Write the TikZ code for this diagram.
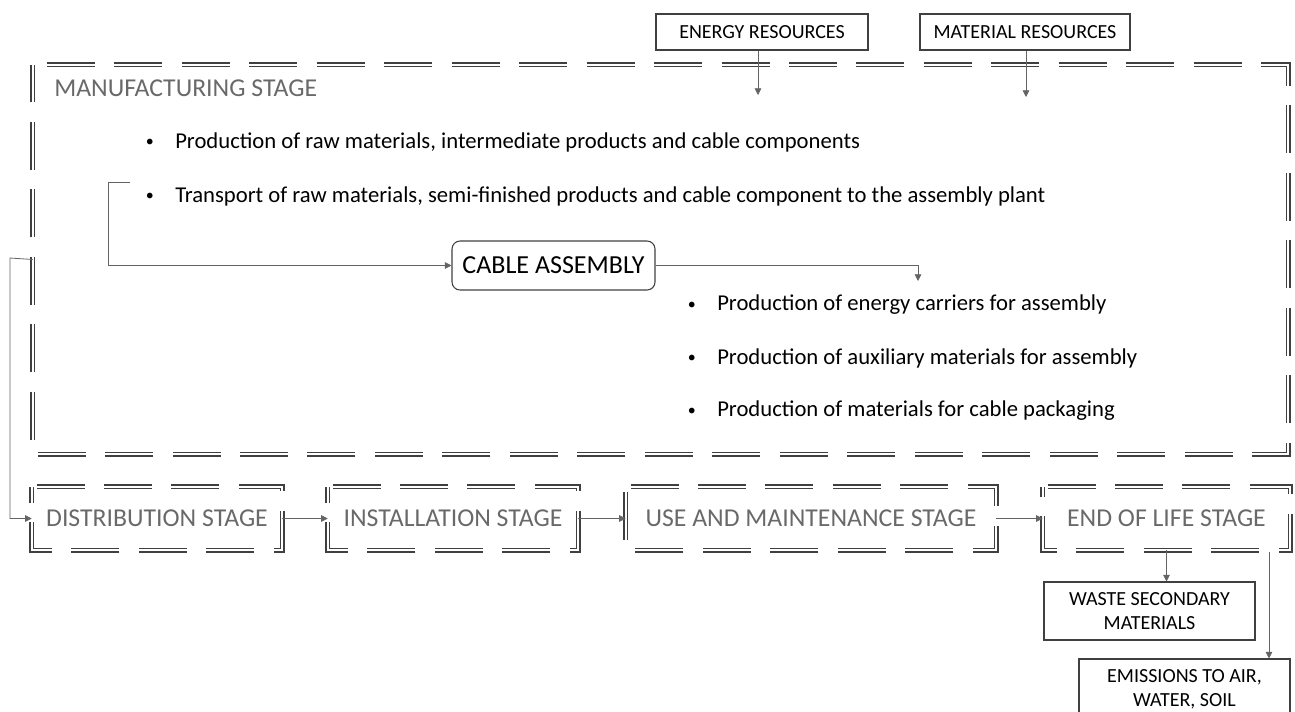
\documentclass[tikz,border=0pt]{standalone}
\usepackage{fontspec}
\setmainfont{Carlito}
\usetikzlibrary{arrows.meta}
\definecolor{boxcol}{RGB}{64,64,64}
\definecolor{labgray}{RGB}{105,105,105}
\definecolor{linecol}{RGB}{100,100,100}
\tikzset{
  dd/.style={draw=boxcol, line width=1.2pt, double=white, double distance=1.6pt,
     dash pattern=on 36pt off 14.6pt},
  stagebox/.style={inner sep=0pt, text=labgray, font=\fontsize{19.3}{22}\selectfont},
  resbox/.style={draw=boxcol, line width=0.8pt, inner sep=0pt, font=\fontsize{15}{18}\selectfont, align=center},
  arr/.style={draw=linecol, line width=0.6pt, -{Triangle[length=5pt,width=5pt]}},
  btext/.style={anchor=west, inner sep=0pt, font=\fontsize{17}{20}\selectfont},
}
\newcommand{\ddbox}[2]{\draw[dd, dash phase=#2] (#1.north west) -- (#1.north east) -- (#1.south east) -- (#1.south west) -- cycle;}
\newcommand{\bul}{\makebox[24pt][l]{\hspace{2pt}\raisebox{1.3pt}{\fontsize{12}{12}\selectfont •}}}
\begin{document}
\begin{tikzpicture}[x=0.75pt,y=-0.75pt]
\useasboundingbox (0,0) rectangle (1295,711);
% manufacturing stage
\node[inner sep=0pt, minimum width=1255*0.75pt, minimum height=389*0.75pt] (mfg) at (660.5,259.5) {};
\ddbox{mfg}{40pt}
\node[anchor=west, inner sep=0pt, text=labgray, font=\fontsize{19.3}{22}\selectfont] (mfglab) at (54,88) {MANUFACTURING STAGE};
% resources
\node[resbox, minimum width=212*0.75pt, minimum height=36*0.75pt] (er) at (762,32) {ENERGY RESOURCES};
\node[resbox, minimum width=210*0.75pt, minimum height=36*0.75pt] (mr) at (1025,32) {MATERIAL RESOURCES};
\coordinate (ea) at (758,95);
\coordinate (ma) at (1026,97);
\draw[arr] (er.south -| ea) -- (ea);
\draw[arr] (mr.south -| ma) -- (ma);
% bullets
\node[btext] (p1) at (143,142) {\bul Production of raw materials, intermediate products and cable components};
\node[btext] (p2) at (143,196) {\bul Transport of raw materials, semi-finished products and cable component to the assembly plant};
\node[draw=boxcol, line width=0.8pt, rounded corners=6pt, inner sep=0pt, minimum width=203*0.75pt, minimum height=49*0.75pt, font=\fontsize{19.5}{22}\selectfont] (ca) at (553.5,265.5) {CABLE ASSEMBLY};
\coordinate (b1) at (130,182);
\coordinate (b2) at (108,182);
\draw[arr] (b1) -- (b2) |- (ca.west);
\coordinate (c2) at (918,281);
\draw[arr] (ca.east) -| (c2);
\node[btext] (q1) at (685,305) {\bul Production of energy carriers for assembly};
\node[btext] (q2) at (685,358) {\bul Production of auxiliary materials for assembly};
\node[btext] (q3) at (685,411) {\bul Production of materials for cable packaging};
% stages
\node[stagebox, minimum width=250*0.75pt, minimum height=63*0.75pt] (dist) at (157,518.5) {DISTRIBUTION STAGE};
\node[stagebox, minimum width=250*0.75pt, minimum height=63*0.75pt] (inst) at (453,518.5) {INSTALLATION STAGE};
\node[stagebox, minimum width=370*0.75pt, minimum height=63*0.75pt] (use) at (811,518.5) {USE AND MAINTENANCE STAGE};
\node[stagebox, minimum width=247*0.75pt, minimum height=63*0.75pt] (eol) at (1166.5,518.5) {END OF LIFE STAGE};
\ddbox{dist}{47pt}
\ddbox{inst}{47pt}
\ddbox{use}{47pt}
\ddbox{eol}{47pt}
\coordinate (l1) at (10,258);
\draw[arr] (mfg.west) -- (l1) |- (dist.west);
\draw[arr] (dist.east) -- (inst.west);
\draw[arr] (inst.east) -- (use.west);
\draw[arr] (use.east) -- (eol.west);
% outputs
\node[resbox, minimum width=211*0.75pt, minimum height=58*0.75pt] (waste) at (1149.5,611) {WASTE SECONDARY\\MATERIALS};
\node[resbox, minimum width=211*0.75pt, minimum height=60*0.75pt] (emis) at (1184.5,689) {EMISSIONS TO AIR,\\WATER, SOIL};
\draw[arr] (eol.south) -- (eol.south |- waste.north);
\coordinate (e1) at (1269,552);
\draw[arr] (e1) -- (e1 |- emis.north);
\end{tikzpicture}
\end{document}
